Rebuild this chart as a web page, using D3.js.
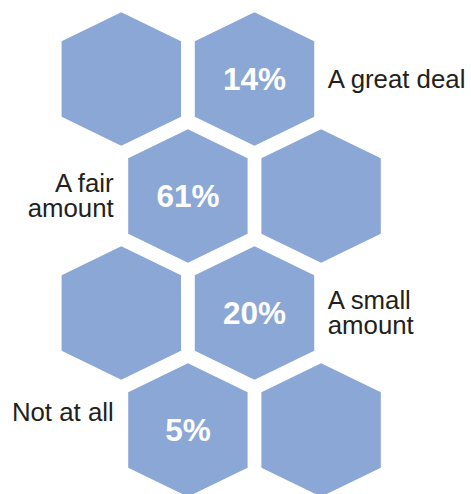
<!DOCTYPE html>
<html>
<head>
<meta charset="utf-8">
<script src="https://cdn.jsdelivr.net/npm/d3@7"></script>
<style>
  html, body { margin: 0; padding: 0; background: #fff; }
  svg { display: block; }
</style>
</head>
<body>
<svg id="chart" width="471" height="494"></svg>
<script>
// ---- data ----
const categories = ["A great deal", "A fair amount", "A small amount", "Not at all"];
const values = [14, 61, 20, 5];
// which column (half-step grid) holds the value hexagon for each row
const valueCols = [1, 0.5, 1, 0.5];
// column positions of the two hexagons in each row
const rowCols = [[0, 1], [0.5, 1.5], [0, 1], [0.5, 1.5]];
// label text lines and side
const labelLines = [["A great deal"], ["A fair", "amount"], ["A small", "amount"], ["Not at all"]];
const labelSide = ["right", "left", "right", "left"];

// ---- layout ----
const svg = d3.select("#chart");
const x = d3.scaleLinear().domain([0, 1]).range([121.3, 254.5]);
const y = d3.scaleLinear().domain([0, 1]).range([79, 196]);

const hw = 59.7, hh = 66.7, hs = 37.8;
const hexPts = [[0, -hh], [hw, -hs], [hw, hs], [0, hh], [-hw, hs], [-hw, -hs]];
const hexPath = d3.line()(hexPts) + "Z";

const hexes = [];
rowCols.forEach((cols, r) => cols.forEach(c => hexes.push({ r, c })));

svg.selectAll("path.hex")
  .data(hexes)
  .join("path")
  .attr("class", "hex")
  .attr("d", hexPath)
  .attr("transform", d => `translate(${x(d.c)},${y(d.r)})`)
  .attr("fill", "#8ba7d5");

const font = "'Liberation Sans', Arial, Helvetica, sans-serif";

svg.selectAll("text.val")
  .data(values)
  .join("text")
  .attr("class", "val")
  .attr("x", (d, i) => x(valueCols[i]))
  .attr("y", (d, i) => y(i) + 10.5)
  .attr("text-anchor", "middle")
  .attr("font-family", font)
  .attr("font-weight", "bold")
  .attr("font-size", 31.5)
  .attr("fill", "#fff")
  .text(d => d + "%");

// category labels
const labelDy = [8.7, -3.8, -4, -9.3];
const lineH = 25;
const lbl = svg.selectAll("text.lbl")
  .data(categories)
  .join("text")
  .attr("class", "lbl")
  .attr("font-family", font)
  .attr("font-size", 25.8)
  .attr("fill", "#231f20")
  .attr("text-anchor", (d, i) => labelSide[i] === "right" ? "start" : "end")
  .attr("transform", (d, i) => {
    const lx = labelSide[i] === "right" ? x(valueCols[i]) + hw + 13.5 : x(valueCols[i]) - hw - 14.5;
    return `translate(${lx},${y(i) + labelDy[i]})`;
  });
lbl.selectAll("tspan")
  .data((d, i) => labelLines[i])
  .join("tspan")
  .attr("x", 0)
  .attr("dy", (d, j) => j === 0 ? 0 : lineH)
  .text(d => d);
</script>
</body>
</html>
